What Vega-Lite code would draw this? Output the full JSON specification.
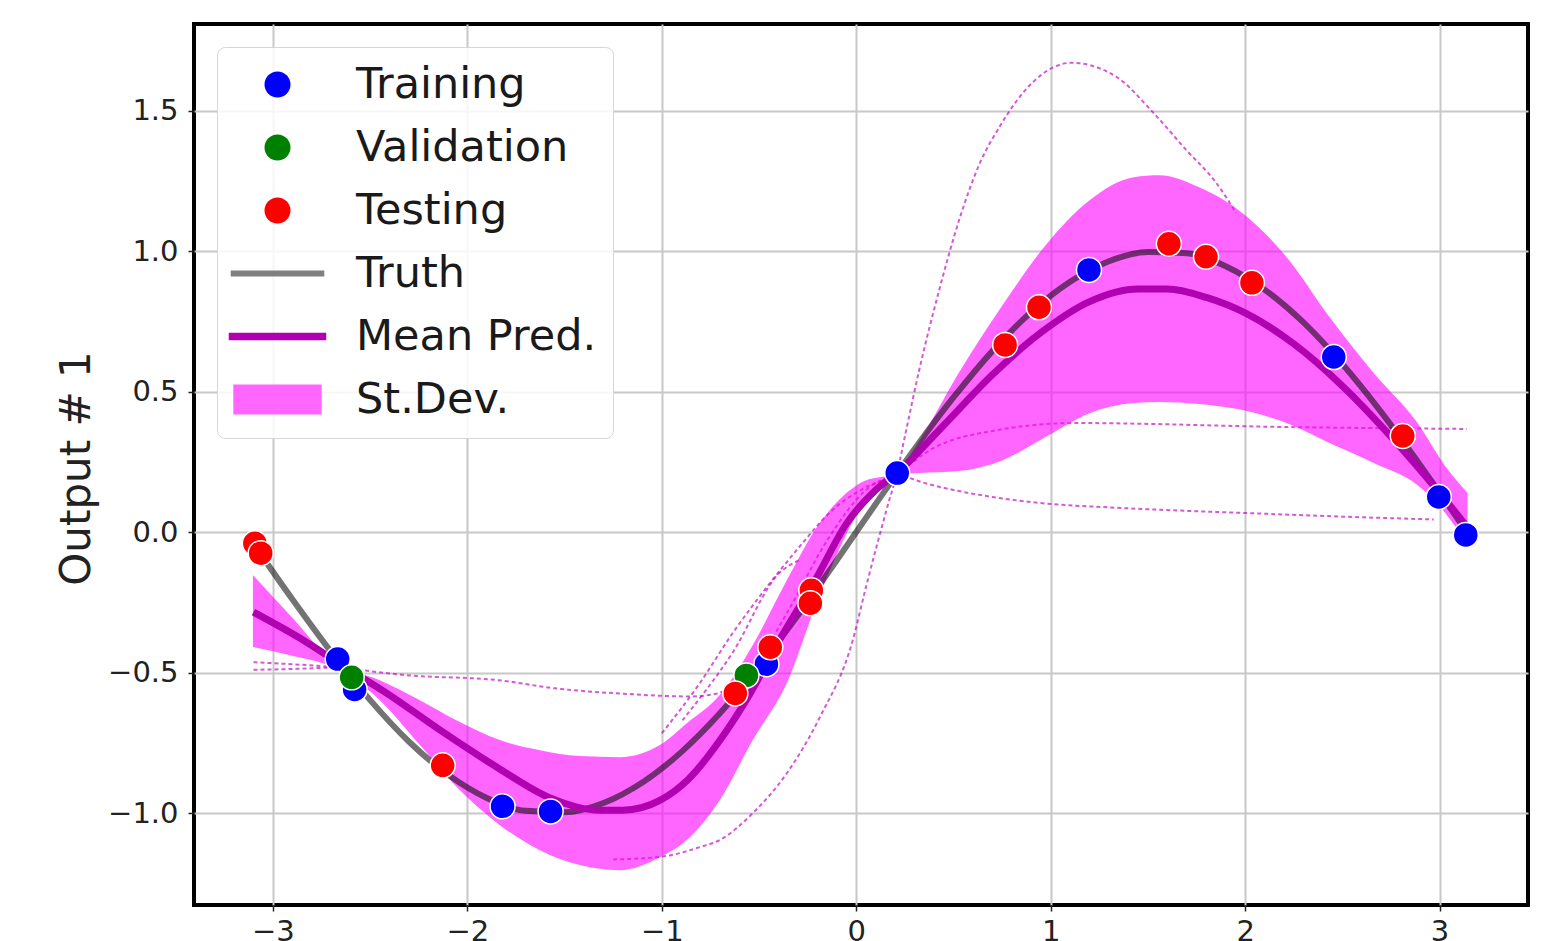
{
  "$schema": "https://vega.github.io/schema/vega-lite/v6.json",
  "width": 1334,
  "height": 881,
  "autosize": {"type": "none"},
  "padding": {"left": 194, "top": 24, "right": 24, "bottom": 36},
  "background": "white",
  "config": {
    "font": "DejaVu Sans",
    "view": {"stroke": "black", "strokeWidth": 4},
    "axis": {
      "domain": false,
      "grid": true,
      "gridColor": "#c8c8c8",
      "gridWidth": 2,
      "tickColor": "#222",
      "tickWidth": 1.5,
      "tickSize": 6,
      "labelFont": "DejaVu Sans",
      "labelFontSize": 29,
      "labelColor": "#222"
    }
  },
  "datasets": {
    "points": [
      {"x": -2.667, "y": -0.452, "series": "Training"},
      {"x": -2.58, "y": -0.56, "series": "Training"},
      {"x": -1.819, "y": -0.976, "series": "Training"},
      {"x": -1.572, "y": -0.994, "series": "Training"},
      {"x": -0.462, "y": -0.47, "series": "Training"},
      {"x": 0.211, "y": 0.21, "series": "Training"},
      {"x": 1.197, "y": 0.933, "series": "Training"},
      {"x": 2.456, "y": 0.623, "series": "Training"},
      {"x": 2.996, "y": 0.125, "series": "Training"},
      {"x": 3.135, "y": -0.01, "series": "Training"},
      {"x": -2.595, "y": -0.517, "series": "Validation"},
      {"x": -0.565, "y": -0.51, "series": "Validation"},
      {"x": -3.093, "y": -0.04, "series": "Testing"},
      {"x": -3.063, "y": -0.075, "series": "Testing"},
      {"x": -2.127, "y": -0.83, "series": "Testing"},
      {"x": -0.622, "y": -0.574, "series": "Testing"},
      {"x": -0.442, "y": -0.41, "series": "Testing"},
      {"x": -0.231, "y": -0.207, "series": "Testing"},
      {"x": -0.236, "y": -0.253, "series": "Testing"},
      {"x": 0.766, "y": 0.666, "series": "Testing"},
      {"x": 0.94, "y": 0.8, "series": "Testing"},
      {"x": 1.608, "y": 1.026, "series": "Testing"},
      {"x": 1.799, "y": 0.98, "series": "Testing"},
      {"x": 2.035, "y": 0.887, "series": "Testing"},
      {"x": 2.811, "y": 0.342, "series": "Testing"}
    ],
    "truth": [
      {"x": -3.09, "y": -0.052}, {"x": -2.9, "y": -0.239}, {"x": -2.7, "y": -0.427},
      {"x": -2.5, "y": -0.598}, {"x": -2.3, "y": -0.746}, {"x": -2.1, "y": -0.863},
      {"x": -1.9, "y": -0.946}, {"x": -1.7, "y": -0.992}, {"x": -1.5, "y": -0.997},
      {"x": -1.3, "y": -0.964}, {"x": -1.1, "y": -0.891}, {"x": -0.9, "y": -0.783},
      {"x": -0.7, "y": -0.644}, {"x": -0.5, "y": -0.479}, {"x": -0.3, "y": -0.296},
      {"x": -0.1, "y": -0.1}, {"x": 0.1, "y": 0.1}, {"x": 0.3, "y": 0.296},
      {"x": 0.5, "y": 0.479}, {"x": 0.7, "y": 0.644}, {"x": 0.9, "y": 0.783},
      {"x": 1.1, "y": 0.891}, {"x": 1.3, "y": 0.964}, {"x": 1.5, "y": 0.997},
      {"x": 1.7, "y": 0.992}, {"x": 1.9, "y": 0.946}, {"x": 2.1, "y": 0.863},
      {"x": 2.3, "y": 0.746}, {"x": 2.5, "y": 0.598}, {"x": 2.7, "y": 0.427},
      {"x": 2.9, "y": 0.239}, {"x": 3.14, "y": 0.0}
    ],
    "mean": [
      {"x": -3.1, "y": -0.285}, {"x": -2.86, "y": -0.378}, {"x": -2.66, "y": -0.467},
      {"x": -2.4, "y": -0.58}, {"x": -2.14, "y": -0.705}, {"x": -1.84, "y": -0.84},
      {"x": -1.58, "y": -0.944}, {"x": -1.32, "y": -0.99}, {"x": -1.2, "y": -0.99},
      {"x": -1.01, "y": -0.955}, {"x": -0.87, "y": -0.884}, {"x": -0.7, "y": -0.74},
      {"x": -0.55, "y": -0.58}, {"x": -0.4, "y": -0.39}, {"x": -0.21, "y": -0.17},
      {"x": -0.05, "y": 0.03}, {"x": 0.1, "y": 0.15}, {"x": 0.21, "y": 0.21},
      {"x": 0.45, "y": 0.38}, {"x": 0.7, "y": 0.56}, {"x": 0.95, "y": 0.71},
      {"x": 1.2, "y": 0.82}, {"x": 1.45, "y": 0.865}, {"x": 1.6, "y": 0.865},
      {"x": 1.8, "y": 0.835}, {"x": 2.0, "y": 0.78}, {"x": 2.25, "y": 0.67},
      {"x": 2.5, "y": 0.52}, {"x": 2.75, "y": 0.34}, {"x": 3.0, "y": 0.14},
      {"x": 3.14, "y": 0.02}
    ],
    "band": [
      {"x": -3.103, "lo": -0.409, "hi": -0.153},
      {"x": -2.913, "lo": -0.438, "hi": -0.295},
      {"x": -2.681, "lo": -0.484, "hi": -0.466},
      {"x": -2.45, "lo": -0.598, "hi": -0.527},
      {"x": -2.244, "lo": -0.758, "hi": -0.598},
      {"x": -2.039, "lo": -0.918, "hi": -0.676},
      {"x": -1.833, "lo": -1.043, "hi": -0.74},
      {"x": -1.627, "lo": -1.132, "hi": -0.776},
      {"x": -1.422, "lo": -1.185, "hi": -0.797},
      {"x": -1.216, "lo": -1.203, "hi": -0.801},
      {"x": -1.01, "lo": -1.157, "hi": -0.758},
      {"x": -0.871, "lo": -1.096, "hi": -0.68},
      {"x": -0.702, "lo": -0.954, "hi": -0.58},
      {"x": -0.532, "lo": -0.74, "hi": -0.402},
      {"x": -0.357, "lo": -0.537, "hi": -0.171},
      {"x": -0.188, "lo": -0.224, "hi": 0.032},
      {"x": 0.018, "lo": 0.078, "hi": 0.174},
      {"x": 0.208, "lo": 0.205, "hi": 0.215},
      {"x": 0.326, "lo": 0.21, "hi": 0.327},
      {"x": 0.527, "lo": 0.217, "hi": 0.566},
      {"x": 0.753, "lo": 0.256, "hi": 0.808},
      {"x": 0.974, "lo": 0.338, "hi": 1.021},
      {"x": 1.2, "lo": 0.423, "hi": 1.181},
      {"x": 1.427, "lo": 0.459, "hi": 1.263},
      {"x": 1.56, "lo": 0.463, "hi": 1.27},
      {"x": 1.761, "lo": 0.456, "hi": 1.228},
      {"x": 1.987, "lo": 0.434, "hi": 1.135},
      {"x": 2.213, "lo": 0.388, "hi": 0.979},
      {"x": 2.434, "lo": 0.317, "hi": 0.765},
      {"x": 2.661, "lo": 0.246, "hi": 0.566},
      {"x": 2.887, "lo": 0.167, "hi": 0.388},
      {"x": 3.026, "lo": 0.071, "hi": 0.238},
      {"x": 3.144, "lo": -0.046, "hi": 0.139}
    ],
    "samples": [
      {"s": "A", "x": -3.1, "y": -0.463}, {"s": "A", "x": -2.7, "y": -0.48},
      {"s": "A", "x": -2.3, "y": -0.51}, {"s": "A", "x": -1.84, "y": -0.527},
      {"s": "A", "x": -1.55, "y": -0.556}, {"s": "A", "x": -1.2, "y": -0.575},
      {"s": "A", "x": -0.85, "y": -0.585}, {"s": "A", "x": -0.72, "y": -0.575},
      {"s": "A", "x": -0.62, "y": -0.54}, {"s": "A", "x": -0.5, "y": -0.45},
      {"s": "A", "x": -0.35, "y": -0.28}, {"s": "A", "x": -0.15, "y": -0.03},
      {"s": "A", "x": 0.05, "y": 0.15}, {"s": "A", "x": 0.21, "y": 0.21},
      {"s": "A", "x": 0.4, "y": 0.3}, {"s": "A", "x": 0.7, "y": 0.36},
      {"s": "A", "x": 1.13, "y": 0.388}, {"s": "A", "x": 2.2, "y": 0.374},
      {"s": "A", "x": 3.14, "y": 0.367},
      {"s": "F", "x": -3.1, "y": -0.49}, {"s": "F", "x": -2.9, "y": -0.487},
      {"s": "F", "x": -2.7, "y": -0.482},
      {"s": "B", "x": -1.25, "y": -1.165}, {"s": "B", "x": -1.0, "y": -1.155},
      {"s": "B", "x": -0.8, "y": -1.12}, {"s": "B", "x": -0.702, "y": -1.096},
      {"s": "B", "x": -0.532, "y": -1.0}, {"s": "B", "x": -0.357, "y": -0.858},
      {"s": "B", "x": -0.188, "y": -0.66}, {"s": "B", "x": -0.018, "y": -0.385},
      {"s": "B", "x": 0.05, "y": -0.196}, {"s": "B", "x": 0.17, "y": 0.114},
      {"s": "B", "x": 0.21, "y": 0.21}, {"s": "B", "x": 0.247, "y": 0.33},
      {"s": "B", "x": 0.324, "y": 0.577}, {"s": "B", "x": 0.427, "y": 0.862},
      {"s": "B", "x": 0.529, "y": 1.11}, {"s": "B", "x": 0.632, "y": 1.307},
      {"s": "B", "x": 0.735, "y": 1.44}, {"s": "B", "x": 0.907, "y": 1.6},
      {"s": "B", "x": 1.107, "y": 1.67}, {"s": "B", "x": 1.338, "y": 1.62},
      {"s": "B", "x": 1.523, "y": 1.496}, {"s": "B", "x": 1.697, "y": 1.36},
      {"s": "B", "x": 1.851, "y": 1.243}, {"s": "B", "x": 1.954, "y": 1.136},
      {"s": "C", "x": 0.21, "y": 0.21}, {"s": "C", "x": 0.35, "y": 0.175},
      {"s": "C", "x": 0.5, "y": 0.15}, {"s": "C", "x": 0.7, "y": 0.125},
      {"s": "C", "x": 1.0, "y": 0.1}, {"s": "C", "x": 1.3, "y": 0.088},
      {"s": "C", "x": 1.54, "y": 0.08}, {"s": "C", "x": 2.0, "y": 0.068},
      {"s": "C", "x": 2.5, "y": 0.055}, {"s": "C", "x": 2.97, "y": 0.045},
      {"s": "D", "x": -1.0, "y": -0.716}, {"s": "D", "x": -0.807, "y": -0.54},
      {"s": "D", "x": -0.636, "y": -0.36}, {"s": "D", "x": -0.46, "y": -0.196},
      {"s": "D", "x": -0.293, "y": -0.053}, {"s": "D", "x": -0.123, "y": 0.078},
      {"s": "D", "x": 0.051, "y": 0.16}, {"s": "D", "x": 0.185, "y": 0.2},
      {"s": "D", "x": 0.21, "y": 0.21},
      {"s": "E", "x": -0.894, "y": -0.67}, {"s": "E", "x": -0.637, "y": -0.43},
      {"s": "E", "x": -0.396, "y": -0.146}, {"s": "E", "x": -0.293, "y": -0.1}
    ]
  },
  "encoding": {
    "x": {
      "field": "x", "type": "quantitative",
      "scale": {"domain": [-3.406, 3.455], "nice": false, "zero": false},
      "axis": {"title": null, "values": [-3, -2, -1, 0, 1, 2, 3], "format": "d", "labelPadding": 6}
    }
  },
  "layer": [
    {
      "data": {"name": "samples"},
      "mark": {"type": "line", "stroke": "#bf00bf", "opacity": 0.65, "strokeWidth": 2, "strokeDash": [4, 3], "clip": true, "interpolate": "monotone"},
      "encoding": {
        "y": {
          "field": "y", "type": "quantitative",
          "scale": {"domain": [-1.327, 1.808], "nice": false, "zero": false},
          "axis": {
            "title": "Output # 1",
            "titleFont": "DejaVu Sans",
            "titleFontSize": 42,
            "titleFontWeight": "normal",
            "titleColor": "#222",
            "titleX": -118,
            "titleY": 444,
            "titleAngle": -90,
            "titleAlign": "center",
            "titleBaseline": "middle",
            "values": [-1, -0.5, 0, 0.5, 1, 1.5],
            "format": ".1f",
            "labelPadding": 10,
            "labelBaseline": "middle"
          }
        },
        "detail": {"field": "s"}
      }
    },
    {
      "data": {"name": "band"},
      "mark": {"type": "area", "fill": "#ff00ff", "opacity": 0.6, "interpolate": "monotone"},
      "encoding": {
        "y": {"field": "lo", "type": "quantitative"},
        "y2": {"field": "hi"}
      }
    },
    {
      "data": {"name": "truth"},
      "mark": {"type": "line", "stroke": "black", "opacity": 0.55, "strokeWidth": 6, "interpolate": "monotone"},
      "encoding": {"y": {"field": "y", "type": "quantitative"}}
    },
    {
      "data": {"name": "mean"},
      "mark": {"type": "line", "stroke": "#b000b0", "strokeWidth": 7, "interpolate": "monotone"},
      "encoding": {"y": {"field": "y", "type": "quantitative"}}
    },
    {
      "data": {"name": "points"},
      "mark": {"type": "point", "filled": true, "size": 625, "stroke": "white", "strokeWidth": 1.5, "opacity": 1},
      "encoding": {
        "y": {"field": "y", "type": "quantitative"},
        "color": {
          "field": "series", "type": "nominal",
          "scale": {
            "domain": ["Training", "Validation", "Testing", "Truth", "Mean Pred.", "St.Dev."],
            "range": ["#0000ff", "#008000", "#ff0000", "#808080", "#b000b0", "#ff66ff"]
          },
          "legend": {
            "title": null,
            "orient": "top-left",
            "offset": 23,
            "padding": 16,
            "fillColor": "rgba(255,255,255,0.85)",
            "strokeColor": "#d6d6d6",
            "cornerRadius": 8,
            "labelFont": "DejaVu Sans",
            "labelFontSize": 43,
            "labelColor": "#1a1a1a",
            "labelLimit": 600,
            "symbolSize": 676,
            "symbolStrokeWidth": 0,
            "symbolOpacity": 1,
            "symbolOffset": 23,
            "rowPadding": 19,
            "labelOffset": 57
          }
        },
        "shape": {
          "field": "series", "type": "nominal",
          "scale": {
            "domain": ["Training", "Validation", "Testing", "Truth", "Mean Pred.", "St.Dev."],
            "range": ["circle", "circle", "circle", "M-3.6,-0.23H3.6V0.23H-3.6Z", "M-3.75,-0.28H3.75V0.28H-3.75Z", "M-3.4,-1.15H3.4V1.15H-3.4Z"]
          },
          "legend": {
            "title": null,
            "orient": "top-left",
            "offset": 23,
            "padding": 16,
            "fillColor": "rgba(255,255,255,0.85)",
            "strokeColor": "#d6d6d6",
            "cornerRadius": 8,
            "labelFont": "DejaVu Sans",
            "labelFontSize": 43,
            "labelColor": "#1a1a1a",
            "labelLimit": 600,
            "symbolSize": 676,
            "symbolStrokeWidth": 0,
            "symbolOpacity": 1,
            "symbolOffset": 23,
            "rowPadding": 19,
            "labelOffset": 57
          }
        }
      }
    }
  ]
}
